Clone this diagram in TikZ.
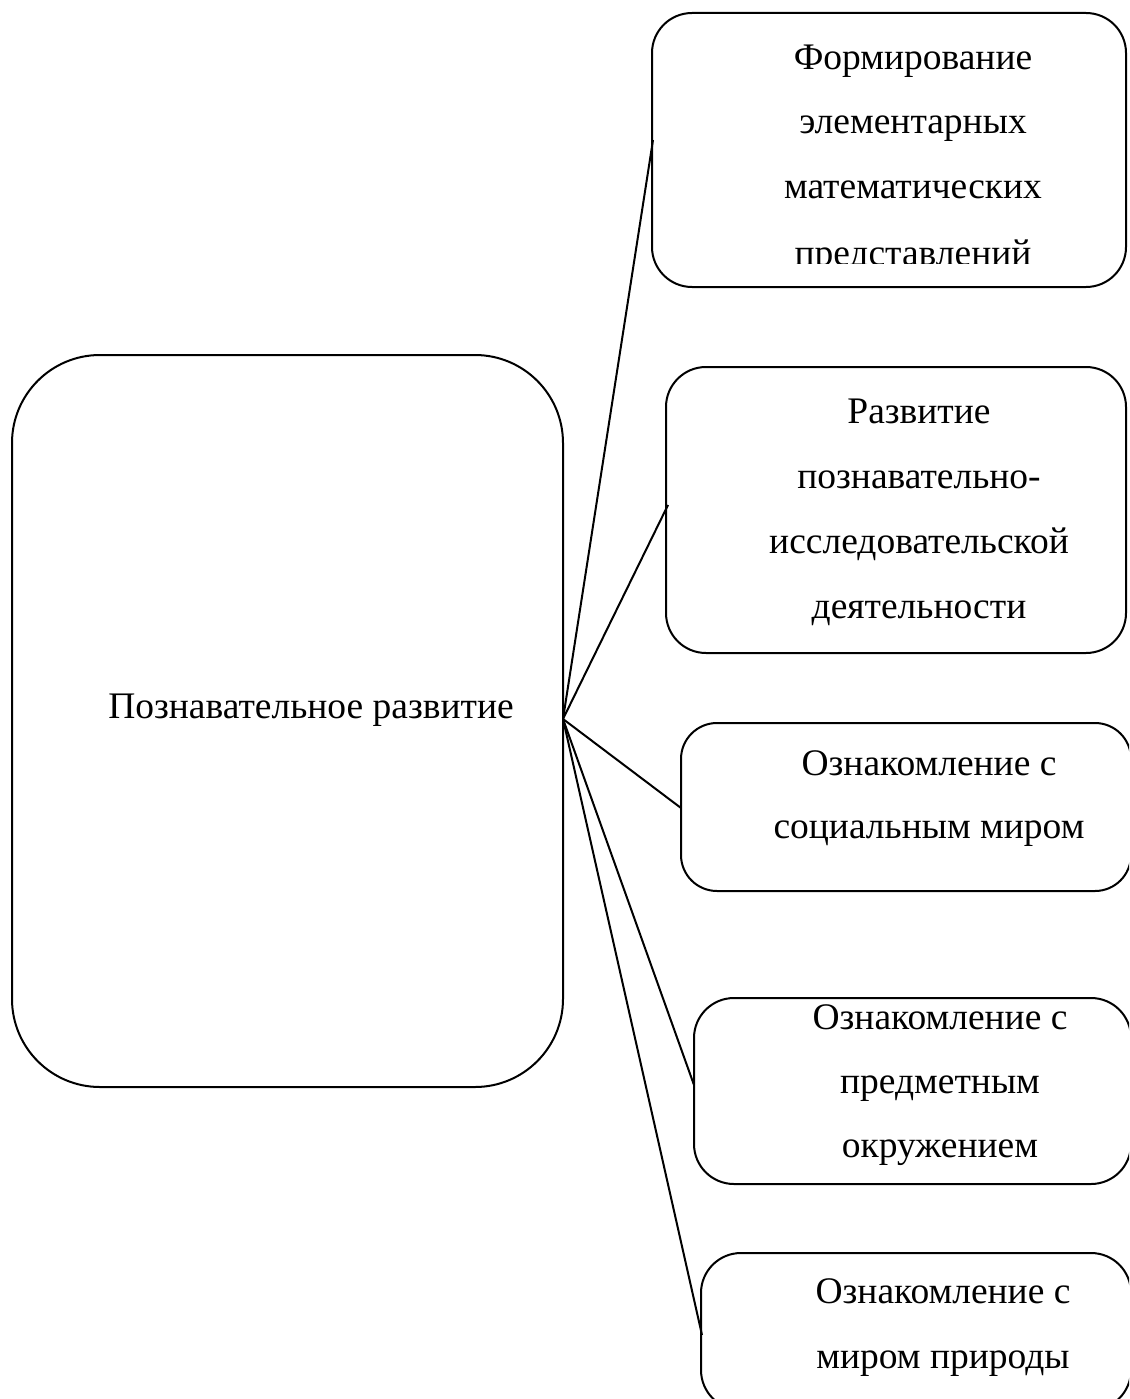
\documentclass[tikz,border=0pt]{standalone}
\usepackage{fontspec}
\setmainfont{Liberation Serif}
\newfontfamily\tnr{Liberation Serif}
\begin{document}
\begin{tikzpicture}[x=1pt,y=-1pt,
  box/.style={draw, line width=2pt, rounded corners=#1, inner sep=0pt, outer sep=0pt},
  box/.default=40pt,
  txt/.style={anchor=base, inner sep=0pt, outer sep=0pt, font=\tnr\fontsize{37.5}{42}\selectfont},
  link/.style={line width=2pt}]
\useasboundingbox (0,0) rectangle (1129,1399);
\begin{scope}
\clip (0,0) rectangle (1129,1399);
% boxes
\node[box=88pt, minimum width=551pt, minimum height=732pt] (main) at (287.5,721) {};
\node[box, minimum width=474pt, minimum height=274pt] (b1) at (889,150) {};
\node[box, minimum width=460pt, minimum height=286pt] (b2) at (896,510) {};
\node[box=36pt, minimum width=450pt, minimum height=168pt] (b3) at (906,807) {};
\node[box, minimum width=437pt, minimum height=186pt] (b4) at (912.5,1091) {};
\node[box, minimum width=430pt, minimum height=157pt] (b5) at (916,1331.5) {};
% texts
\node[txt] (tm) at (311,718) {Познавательное развитие};
\node[txt] (t11) at (913,70) {Формирование};
\node[txt] (t12) at (913,134) {элементарных};
\node[txt] (t13) at (913,199) {математических};
\begin{scope}
\clip (600,200) rectangle (1129,263);
\node[txt] (t14) at (913,265) {представлений};
\end{scope}
\node[txt] (t21) at (919,423) {Развитие};
\node[txt] (t22) at (919,488) {познавательно-};
\node[txt] (t23) at (919,553) {исследовательской};
\node[txt] (t24) at (919,618) {деятельности};
\node[txt] (t31) at (929,775) {Ознакомление с};
\node[txt] (t32) at (929,838) {социальным миром};
\node[txt] (t41) at (940,1029) {Ознакомление с};
\node[txt] (t42) at (940,1093) {предметным};
\node[txt] (t43) at (940,1157) {окружением};
\node[txt] (t51) at (943,1303) {Ознакомление с};
\node[txt] (t52) at (943,1368) {миром природы};
% connectors
\coordinate (hub) at (563,719);
\coordinate (e1) at (653,140);
\coordinate (e2) at (668,505);
\coordinate (e3) at (681,808);
\coordinate (e4) at (694,1085);
\coordinate (e5) at (702,1335);
\draw[link] (hub) -- (e1);
\draw[link] (hub) -- (e2);
\draw[link] (hub) -- (e3);
\draw[link] (hub) -- (e4);
\draw[link] (hub) -- (e5);
\end{scope}
\end{tikzpicture}
\end{document}
